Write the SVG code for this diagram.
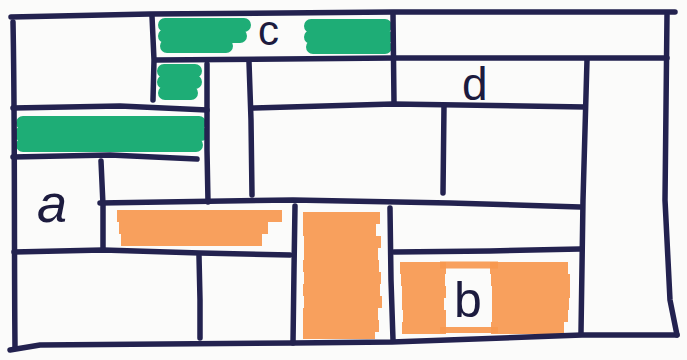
<svg xmlns="http://www.w3.org/2000/svg" width="687" height="360" viewBox="0 0 687 360">
<style>
.ln{fill:none;stroke:#23224f;stroke-width:5.5;stroke-linecap:round;stroke-linejoin:round}
.g{fill:none;stroke:#12a96f;stroke-width:14;stroke-linecap:round;opacity:0.95}
.o{fill:none;stroke:#f7984f;stroke-width:12;stroke-linecap:butt;opacity:0.92}
.t{font-family:"Liberation Sans",Arial,sans-serif;fill:#1c1b3e}
</style>
<rect width="687" height="360" fill="#fbfbfa"/>
<g id="marker-fills">
<path class="g" d="M165 25H244M165 36H240M167 46H226"/>
<path class="g" d="M311 26H385M311 37H386M313 47H385"/>
<path class="g" d="M164 71H195M164 82H195M165 93H191"/>
<path class="g" d="M23 123H199M21 134H201M23 145H196"/>
<path class="o" d="M117 216H282M119 228H268M121 240H262"/>
<path class="o" d="M303 218H380M303 230H376M304 242H381M304 254H378M303 266H379M304 278H381M303 290H380M304 302H382M303 314H378M303 326H379M303 333H375"/>
<path class="o" d="M400 268H446M401 280H445M402 292H446M402 304H444M403 316H446M402 328H446"/>
<path class="o" d="M490 268H568M491 280H570M492 292H570M492 304H569M492 316H568M491 328H564"/>
<path class="o" d="M440 265H498" style="stroke-width:7"/>
<path class="o" d="M440 330H498" style="stroke-width:6"/>
</g>
<g id="frame-lines">
<path class="ln" d="M11 17L150 14L393 12L675 12"/>
<path class="ln" d="M13 22C15 120 14 240 15 347"/>
<path class="ln" d="M10 350L40 345L293 343L392 342L582 335L677 335"/>
<path class="ln" d="M667 15L665 200L670 300L677 335"/>
<path class="ln" d="M152 16L154 60L153 100"/>
<path class="ln" d="M156 60L393 58L667 58"/>
<path class="ln" d="M393 14L394 103"/>
<path class="ln" d="M253 108L393 104L585 107"/>
<path class="ln" d="M587 60L583 200L581 333"/>
<path class="ln" d="M444 106L443 193"/>
<path class="ln" d="M249 62L251 120L252 195"/>
<path class="ln" d="M207 64L207 150L208 202"/>
<path class="ln" d="M13 108L120 106L207 110"/>
<path class="ln" d="M13 157L110 155L197 159"/>
<path class="ln" d="M101 161L103 205L103 250"/>
<path class="ln" d="M100 203L293 200L450 203L580 207"/>
<path class="ln" d="M14 252L103 250L200 253L290 255"/>
<path class="ln" d="M295 206L294 270L293 343"/>
<path class="ln" d="M199 256L200 300L200 338"/>
<path class="ln" d="M390 208L391 280L393 340"/>
<path class="ln" d="M394 252L490 251L580 249"/>
</g>
<g id="labels">
<text class="t" x="37" y="222" font-size="54" font-style="italic">a</text>
<text class="t" x="454" y="317" font-size="50">b</text>
<text class="t" x="258" y="45" font-size="42">c</text>
<text class="t" x="462" y="100" font-size="46">d</text>
</g>
</svg>
